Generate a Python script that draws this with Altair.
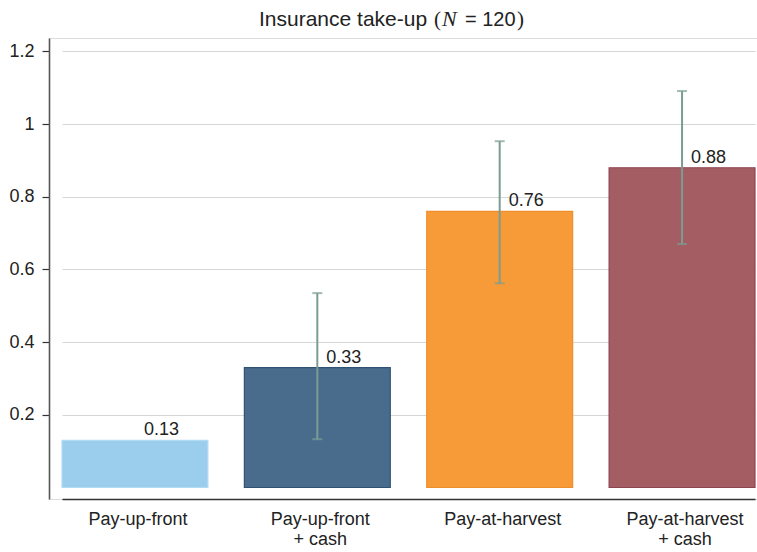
import altair as alt
import pandas as pd

# Treatment arms and take-up shares
groups = ["Pay-up-front", "Pay-up-front\n+ cash", "Pay-at-harvest", "Pay-at-harvest\n+ cash"]
takeup = [0.13, 0.33, 0.76, 0.88]
labels = ["0.13", "0.33", "0.76", "0.88"]
ci_low = [None, 0.133, 0.562, 0.670]
ci_high = [None, 0.535, 0.953, 1.091]
fills = ["#9BCDEC", "#4A6C8C", "#F79A38", "#A55D64"]
strokes = ["#B3DAF3", "#2F5273", "#EE8E2C", "#8E4450"]
y_ticks = [0.2, 0.4, 0.6, 0.8, 1.0, 1.2]

df = pd.DataFrame({
    "group": groups,
    "takeup": takeup,
    "label": labels,
    "lo": ci_low,
    "hi": ci_high,
})
ci_df = df.dropna(subset=["lo"])

FONT = "Liberation Sans"
W, H = 708, 461

x = alt.X(
    "group:N",
    sort=groups,
    scale=alt.Scale(range=[13, 706], paddingInner=0.2, paddingOuter=0),
    axis=alt.Axis(
        title=None,
        labelAngle=0,
        labelExpr="split(datum.value, '\\n')",
        labelFont=FONT,
        labelFontSize=18,
        labelColor="#222222",
        labelLineHeight=20,
        labelPadding=11,
        labelOffset=3,
        ticks=False,
        domainColor="#333333",
        domainWidth=1.6,
        grid=False,
    ),
)

y_scale = alt.Scale(domain=[-0.0316, 1.237], nice=False, zero=False)

bars = alt.Chart(df).mark_bar(strokeWidth=1.2).encode(
    x=x,
    y=alt.Y(
        "takeup:Q",
        scale=y_scale,
        axis=alt.Axis(
            title=None,
            values=y_ticks,
            format="~g",
            labelFont=FONT,
            labelFontSize=18,
            labelColor="#222222",
            labelPadding=8,
            tickSize=7,
            tickColor="#333333",
            tickWidth=1.2,
            domainColor="#555555",
            domainWidth=1.6,
            gridColor="#d6d6d6",
            gridWidth=1.2,
        ),
    ),
    y2=alt.datum(0),
    color=alt.Color("group:N", scale=alt.Scale(domain=groups, range=fills), legend=None),
    stroke=alt.Stroke("group:N", scale=alt.Scale(domain=groups, range=strokes), legend=None),
)

ci_color = "#7A9C93"
whisker = alt.Chart(ci_df).mark_rule(color=ci_color, strokeWidth=2).encode(
    x=alt.X("group:N", sort=groups),
    y="lo:Q",
    y2="hi:Q",
)
cap_low = alt.Chart(ci_df).mark_tick(color=ci_color, size=10, thickness=2, orient="horizontal").encode(
    x=alt.X("group:N", sort=groups),
    y="lo:Q",
)
cap_high = alt.Chart(ci_df).mark_tick(color=ci_color, size=10, thickness=2, orient="horizontal").encode(
    x=alt.X("group:N", sort=groups),
    y="hi:Q",
)

values = alt.Chart(df).mark_text(
    font=FONT, fontSize=18, color="#222222", align="left", baseline="alphabetic", dx=9, dy=-5
).encode(
    x=alt.X("group:N", sort=groups),
    y="takeup:Q",
    text="label:N",
)

# Title pieces: sans text with a serif italic N
title_y = -12


def title_piece(text, px, font=FONT, style="normal", size=21):
    return alt.Chart(df.head(1)).mark_text(
        font=font, fontStyle=style, fontSize=size, color="#222222",
        align="left", baseline="alphabetic",
    ).encode(x=alt.value(px), y=alt.value(title_y), text=alt.value(text))


t1 = title_piece("Insurance take-up", 210)
t2 = title_piece("(", 385, font="Liberation Serif")
t3 = title_piece("N", 393, font="Liberation Serif", style="italic", size=22)
t4 = title_piece("= 120", 416, size=20)
t5 = title_piece(")", 468, font="Liberation Serif")

chart = alt.layer(bars, whisker, cap_low, cap_high, values, t1, t2, t3, t4, t5).properties(
    width=W,
    height=H,
    autosize=alt.AutoSizeParams(type="none"),
    padding={"left": 49, "top": 38, "right": 0, "bottom": 53},
).configure_view(stroke=None).configure(background="white")

chart.save("out.html", embed_options={"renderer": "svg", "actions": False})
